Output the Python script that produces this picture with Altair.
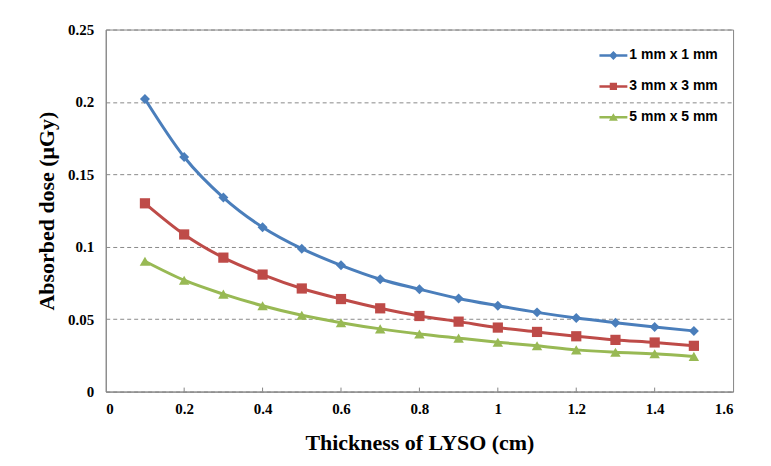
import altair as alt
import pandas as pd

thickness = [0.1, 0.2, 0.3, 0.4, 0.5, 0.6, 0.7, 0.8, 0.9, 1.0, 1.1, 1.2, 1.3, 1.4, 1.5]
dose_1mm = [0.202, 0.162, 0.134, 0.1135, 0.0987, 0.0872, 0.0776, 0.0707, 0.0643, 0.0593, 0.0547, 0.0508, 0.0476, 0.0446, 0.0419]
dose_3mm = [0.130, 0.1085, 0.0925, 0.0808, 0.0712, 0.0639, 0.0575, 0.0522, 0.0483, 0.0442, 0.0412, 0.0382, 0.0357, 0.0339, 0.0316]
dose_5mm = [0.090, 0.0769, 0.0673, 0.0593, 0.0527, 0.0476, 0.0433, 0.0398, 0.0369, 0.0341, 0.0316, 0.0288, 0.0272, 0.0261, 0.0243]

series_names = ["1 mm x 1 mm", "3 mm x 3 mm", "5 mm x 5 mm"]
series_colors = ["#4A7EBB", "#BE4B48", "#98B954"]
series_shapes = ["diamond", "square", "triangle-up"]
# legend symbols: horizontal line segment with the marker in the middle
legend_paths = [
    "M-1,-0.09L1,-0.09L1,0.09L-1,0.09Z M0,-0.32L0.32,0L0,0.32L-0.32,0Z",
    "M-1,-0.09L1,-0.09L1,0.09L-1,0.09Z M-0.26,-0.26L0.26,-0.26L0.26,0.26L-0.26,0.26Z",
    "M-1,-0.09L1,-0.09L1,0.09L-1,0.09Z M0,-0.3L0.32,0.24L-0.32,0.24Z",
]

x_ticks = [0, 0.2, 0.4, 0.6, 0.8, 1.0, 1.2, 1.4, 1.6]
y_ticks = [0, 0.05, 0.1, 0.15, 0.2, 0.25]
inner_ticks = [0.2, 0.4, 0.6, 0.8, 1.0, 1.2, 1.4]

rows = []
for name, vals in zip(series_names, [dose_1mm, dose_3mm, dose_5mm]):
    for t, v in zip(thickness, vals):
        rows.append({"thickness": t, "dose": v, "series": name})
df = pd.DataFrame(rows)
ticks_df = pd.DataFrame({"t": inner_ticks})

W, H = 629, 363
serif = "Liberation Serif"

x_enc = alt.X("thickness:Q",
              scale=alt.Scale(domain=[0, 1.6], nice=False, zero=False),
              axis=alt.Axis(values=x_ticks, format="~g", title="Thickness of LYSO (cm)",
                            grid=False, ticks=False, labelPadding=10, titlePadding=16,
                            titleFontSize=22))
y_enc = alt.Y("dose:Q",
              scale=alt.Scale(domain=[0, 0.25], nice=False),
              axis=alt.Axis(values=y_ticks, format="~g", title="Absorbed dose (\u03bcGy)",
                            grid=True, ticks=False, labelPadding=12, titlePadding=9,
                            titleFontSize=22))
color_scale = alt.Scale(domain=series_names, range=series_colors)

lines = alt.Chart(df).mark_line(strokeWidth=3, interpolate="monotone").encode(
    x=x_enc, y=y_enc, color=alt.Color("series:N", scale=color_scale, legend=None)
)

point_layers = []
for name, shp, sz in zip(series_names, series_shapes, [100, 105, 110]):
    point_layers.append(
        alt.Chart(df).transform_filter(alt.datum.series == name)
        .mark_point(filled=True, shape=shp, size=sz, opacity=1)
        .encode(x="thickness:Q", y="dose:Q",
                color=alt.Color("series:N", scale=color_scale, legend=None))
    )

legend_layer = alt.Chart(df).mark_point(filled=True, opacity=0, size=784).encode(
    x="thickness:Q", y="dose:Q",
    color=alt.Color("series:N", scale=color_scale,
                    legend=alt.Legend(title=None, orient="none", legendX=495, legendY=12)),
    shape=alt.Shape("series:N", scale=alt.Scale(domain=series_names, range=legend_paths),
                    legend=alt.Legend(title=None, orient="none", legendX=495, legendY=12)),
)

tick_marks = alt.Chart(ticks_df).mark_rule(color="#868686", strokeWidth=1).encode(
    x="t:Q", y=alt.value(H), y2=alt.value(H - 4)
)

chart = alt.layer(lines, *point_layers, tick_marks, legend_layer).resolve_scale(
    color="independent", shape="independent"
).properties(
    width=W, height=H,
    autosize=alt.AutoSizeParams(type="none"),
    padding={"left": 98, "top": 21, "right": 30, "bottom": 72},
    background="white",
).configure_view(
    stroke="#868686", strokeWidth=1
).configure_axis(
    labelFont=serif, labelFontSize=15, labelFontWeight="bold", labelColor="black",
    titleFont=serif, titleFontWeight="bold", titleColor="black",
    domainColor="#868686", domainWidth=1,
    gridColor="#8a8a8a", gridDash=[4, 3], gridWidth=1,
).configure_legend(
    labelFont="Liberation Sans", labelFontSize=14, labelFontWeight="bold", labelColor="black",
    symbolSize=784, rowPadding=10, labelOffset=2, padding=0, symbolOpacity=1,
    symbolStrokeWidth=0,
)

chart.save("out.html", embed_options={"renderer": "svg", "actions": False})
